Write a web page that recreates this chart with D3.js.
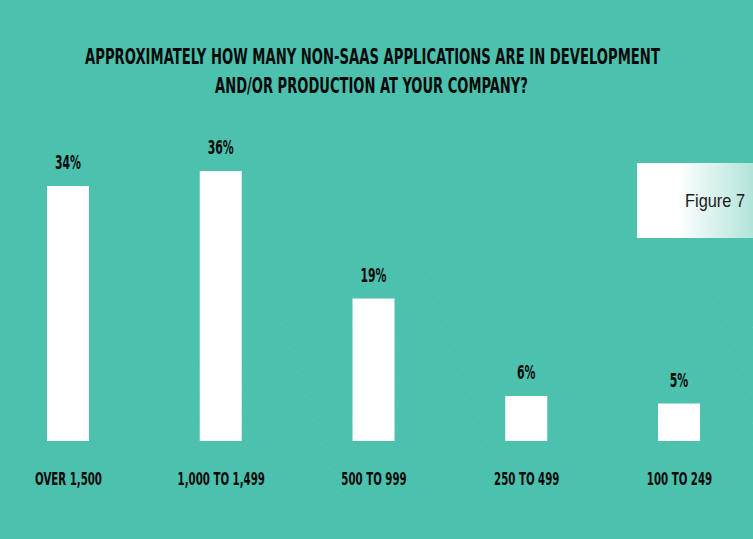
<!DOCTYPE html>
<html><head><meta charset="utf-8">
<script src="https://cdn.jsdelivr.net/npm/d3@7"></script>
<style>
html,body{margin:0;padding:0;background:#4bc1ae;}
svg{display:block;}
</style></head>
<body>
<svg id="chart" width="753" height="539"></svg>
<script>
const categories = ["OVER 1,500", "1,000 TO 1,499", "500 TO 999", "250 TO 499", "100 TO 249"];
const values = [34, 36, 19, 6, 5];
const valueLabels = ["34%", "36%", "19%", "6%", "5%"];
const titleLines = ["APPROXIMATELY HOW MANY NON-SAAS APPLICATIONS ARE IN DEVELOPMENT", "AND/OR PRODUCTION AT YOUR COMPANY?"];
const figureLabel = "Figure 7";

const W = 753, H = 539;
const svg = d3.select("#chart");
const condensed = "'DejaVu Sans Condensed','Liberation Sans Narrow',sans-serif";

svg.append("rect").attr("width", W).attr("height", H).attr("fill", "#4bc1ae");

// subtle dotted wave decoration
const deco = svg.append("g").attr("fill", "#5fd4c0").attr("opacity", 0.5);
for (let r = 0; r < 16; r++) {
  for (let c = 0; c < 70; c++) {
    const px = 150 + c * 9 + r * 4;
    const py = 310 + r * 14 + 55 * Math.sin((c / 70) * Math.PI * 1.3 + 2.3) - r * 2;
    if (px < W && py < H && py > 250) deco.append("rect").attr("x", px).attr("y", py).attr("width", 1.4).attr("height", 1.4);
  }
}

// helper: horizontally compress text to a target width
function fitText(sel, cx, cy, targetW) {
  const node = sel.node();
  const w = node.getComputedTextLength();
  const s = targetW / w;
  sel.attr("x", 0).attr("y", 0).attr("text-anchor", "middle")
     .attr("transform", `translate(${cx},${cy}) scale(${s},1)`);
  return s;
}

// title
const titleSpecs = [{x0: 85, x1: 660, y: 64}, {x0: 215, x1: 528, y: 93}];
titleLines.forEach((t, i) => {
  const tx = svg.append("text")
    .attr("font-family", condensed).attr("font-weight", "bold")
    .attr("font-size", 22).attr("fill", "#0a0a0a").text(t);
  fitText(tx, (titleSpecs[i].x0 + titleSpecs[i].x1) / 2, titleSpecs[i].y, titleSpecs[i].x1 - titleSpecs[i].x0);
});

// scales
const baseline = 441;
const x = d3.scalePoint().domain(categories).range([68, 679]);
const y = d3.scaleLinear().domain([0, 36]).range([baseline, 171]);
const barW = 42;

svg.append("g").selectAll("rect").data(values).join("rect")
  .attr("x", (d, i) => x(categories[i]) - barW / 2)
  .attr("y", d => y(d))
  .attr("width", barW)
  .attr("height", d => baseline - y(d))
  .attr("fill", "#ffffff");

// value labels (compressed)
const vG = svg.append("g");
let vScale = null;
values.forEach((d, i) => {
  const t = vG.append("text")
    .attr("font-family", condensed).attr("font-weight", "bold")
    .attr("font-size", 19).attr("fill", "#0a0a0a").text(valueLabels[i]);
  if (vScale === null) vScale = 26 / t.node().getComputedTextLength();
  t.attr("text-anchor", "middle")
   .attr("transform", `translate(${x(categories[i])},${y(d) - 17}) scale(${vScale},1)`);
});

// category axis labels
const xAxis = d3.axisBottom(x).tickSize(0).tickPadding(0);
const axG = svg.append("g").attr("transform", `translate(0,${485})`).call(xAxis);
axG.select(".domain").remove();
let cScale = null;
axG.selectAll("text")
  .attr("dy", 0).attr("y", 0)
  .attr("font-family", condensed).attr("font-weight", "bold")
  .attr("font-size", 17).attr("fill", "#0a0a0a")
  .each(function (d, i) {
    if (cScale === null) cScale = 67 / this.getComputedTextLength();
    d3.select(this).attr("transform", `scale(${cScale},1)`);
  });

// figure label box
const defs = svg.append("defs");
const grad = defs.append("linearGradient").attr("id", "figGrad").attr("x1", "0").attr("x2", "1").attr("y1", "0").attr("y2", "0");
grad.append("stop").attr("offset", "0%").attr("stop-color", "#ffffff");
grad.append("stop").attr("offset", "35%").attr("stop-color", "#ffffff");
grad.append("stop").attr("offset", "100%").attr("stop-color", "#b1e4d9");
svg.append("rect").attr("x", 637).attr("y", 163).attr("width", 116).attr("height", 75).attr("fill", "url(#figGrad)");
const fig = svg.append("text")
  .attr("font-family", "'Liberation Sans',Arial,sans-serif")
  .attr("font-size", 19).attr("fill", "#1a1a1a").text(figureLabel);
fitText(fig, 715, 207, 60);
</script>
</body></html>
